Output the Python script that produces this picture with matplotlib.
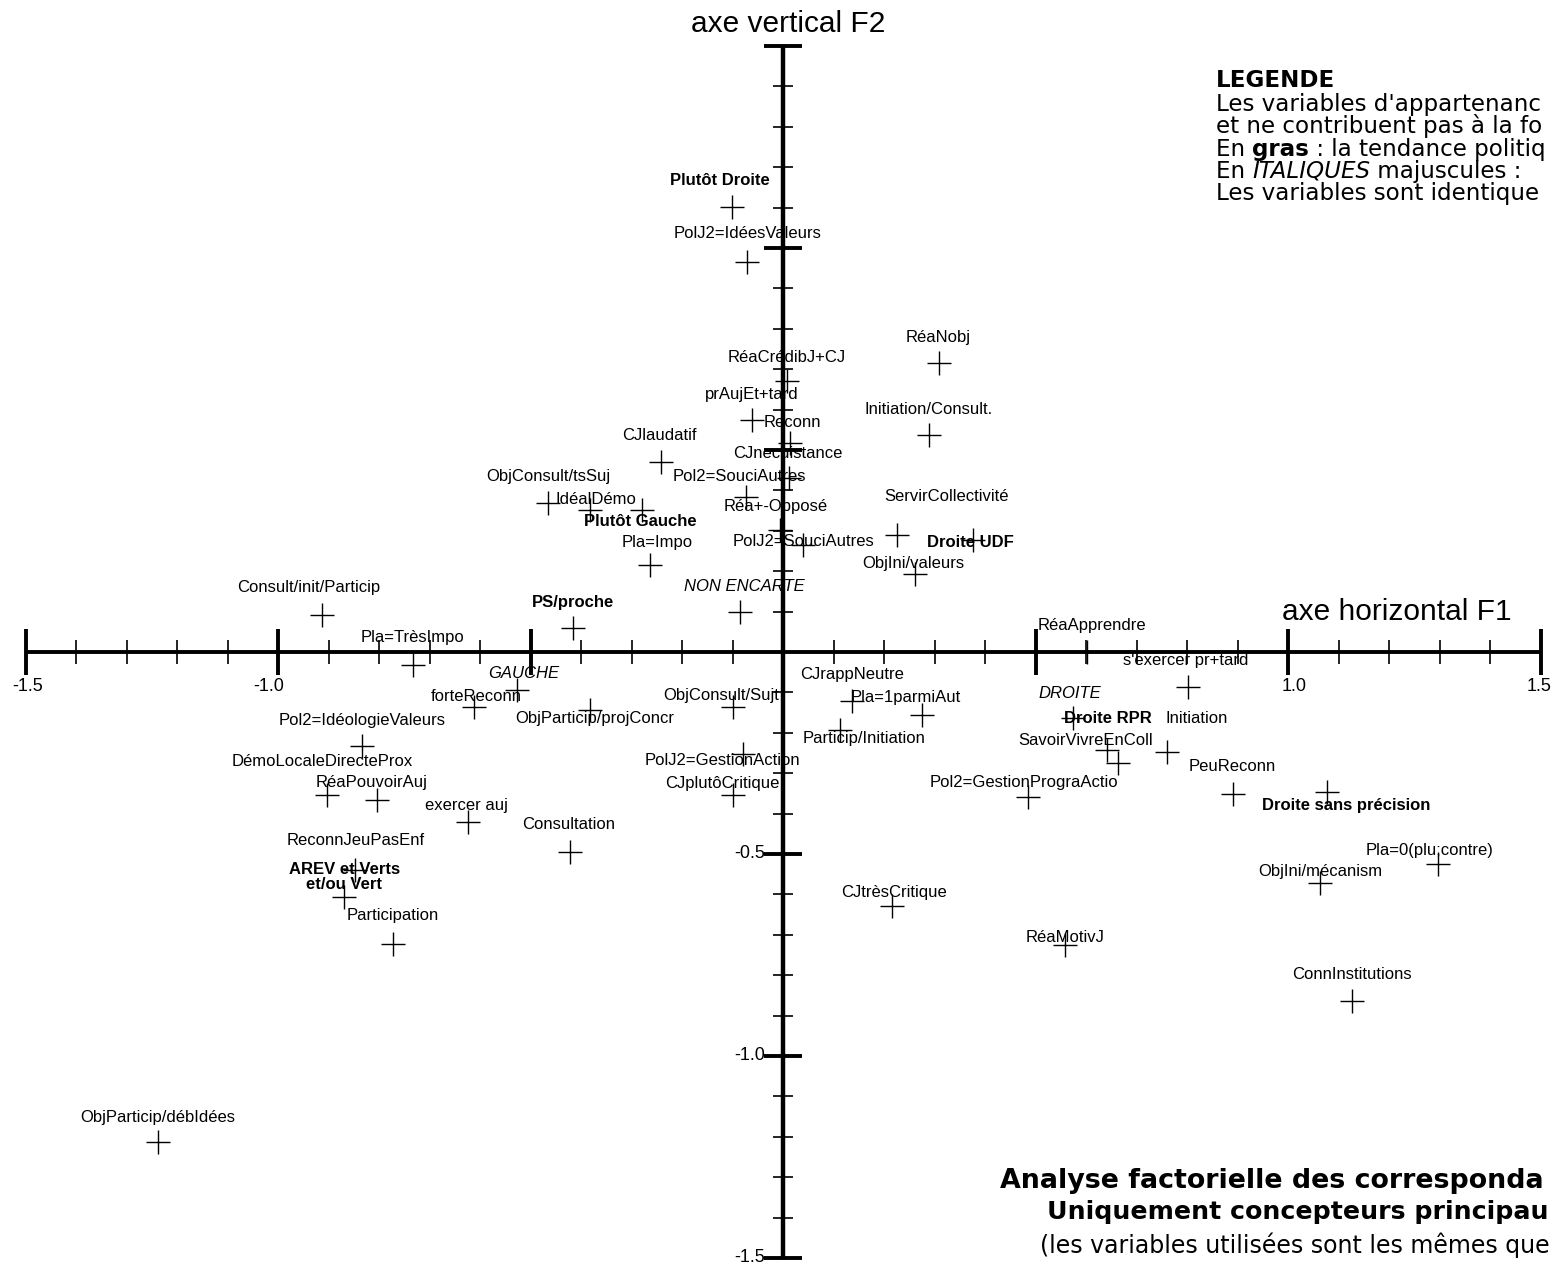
import numpy as np
import matplotlib.pyplot as plt

plt.rcParams['font.family'] = ['Liberation Sans', 'DejaVu Sans']

labels = [
    'Plutôt Droite', 'PolJ2=IdéesValeurs', 'RéaNobj', 'RéaCrédibJ+CJ', 'prAujEt+tard',
    'Reconn', 'Initiation/Consult.', 'CJlaudatif', 'CJnecuistance', 'Pol2=SouciAutres',
    'ObjConsult/tsSuj', 'IdéalDémo', 'Plutôt Gauche', 'Réa+-Opposé', 'ServirCollectivité',
    'PolJ2=SouciAutres', 'Droite UDF', 'ObjIni/valeurs', 'Pla=Impo', 'NON ENCARTE',
    'Consult/init/Particip', 'PS/proche', 'Pla=TrèsImpo', 'GAUCHE', 'forteReconn',
    'ObjParticip/projConcr', 'Pol2=IdéologieValeurs', 'DémoLocaleDirecteProx', 'RéaPouvoirAuj',
    'exercer auj', 'Consultation', 'ReconnJeuPasEnf', 'AREV et Verts\net/ou Vert',
    'Participation', 'ObjConsult/Sujt', 'CJrappNeutre', 'Pla=1parmiAut', 'Particip/Initiation',
    'PolJ2=GestionAction', 'CJplutôCritique', 'Pol2=GestionPrograActio', 'RéaApprendre',
    "s'exercer pr+tard", 'DROITE', 'Droite RPR', 'Initiation', 'SavoirVivreEnColl',
    'PeuReconn', 'Droite sans précision', 'Pla=0(plu;contre)', 'ObjIni/mécanism',
    'ConnInstitutions', 'CJtrèsCritique', 'RéaMotivJ', 'ObjParticip/débIdées',
]
f1 = [
    -0.101, -0.071, 0.309, 0.008, -0.061,
    0.014, 0.289, -0.242, 0.012, -0.073,
    -0.465, -0.382, -0.279, -0.006, 0.226,
    0.040, 0.376, 0.261, -0.263, -0.085,
    -0.913, -0.416, -0.733, -0.527, -0.612,
    -0.382, -0.834, -0.903, -0.804,
    -0.624, -0.422, -0.848, -0.869,
    -0.772, -0.099, 0.137, 0.275, 0.113,
    -0.079, -0.099, 0.485, 0.602,
    0.802, 0.574, 0.663, 0.760, 0.642,
    0.891, 1.077, 1.297, 1.063,
    1.127, 0.216, 0.558, -1.238,
]
f2 = [
    1.101, 0.965, 0.715, 0.671, 0.574,
    0.517, 0.537, 0.470, 0.431, 0.384,
    0.369, 0.351, 0.351, 0.302, 0.290,
    0.265, 0.277, 0.193, 0.215, 0.099,
    0.092, 0.059, -0.032, -0.094, -0.136,
    -0.144, -0.233, -0.354, -0.366,
    -0.421, -0.495, -0.540, -0.606,
    -0.723, -0.136, -0.121, -0.156, -0.193,
    -0.252, -0.354, -0.359, 0.0,
    -0.087, -0.163, -0.275, -0.248, -0.243,
    -0.351, -0.347, -0.525, -0.572,
    -0.864, -0.629, -0.725, -1.213,
]
# n = normal, b = tendance politique (gras), i = groupe (italiques majuscules)
kind = [
    'b', 'n', 'n', 'n', 'n',
    'n', 'n', 'n', 'n', 'n',
    'n', 'n', 'b', 'n', 'n',
    'n', 'b', 'n', 'n', 'i',
    'n', 'b', 'n', 'i', 'n',
    'n', 'n', 'n', 'n',
    'n', 'n', 'n', 'b',
    'n', 'n', 'n', 'n', 'n',
    'n', 'n', 'n', 'n',
    'n', 'i', 'b', 'n', 'n',
    'n', 'b', 'n', 'n',
    'n', 'n', 'n', 'n',
]

# décalage des étiquettes par rapport au point (pixels)
label_offsets = [
    (-12, 27), (0, 29), (-1, 26), (0, 23), (0, 26),
    (2, 21), (0, 26), (-1, 27), (-1, 24), (-7, 20),
    (0, 26), (6, 11), (-2, -11), (-4, 23), (49, 38),
    (0, 3), (-3, -2), (-1, 11), (7, 23), (4, 26),
    (-13, 27), (0, 26), (0, 27), (7, 16), (2, 10),
    (5, -8), (0, 26), (-5, 34), (-5, 17),
    (-1, 17), (-1, 27), (1, 30), (0, 20),
    (0, 29), (-12, 11), (0, 26), (-16, 18), (24, -9),
    (-21, -7), (-11, 12), (-4, 15), (5, 27),
    (-2, 27), (-3, 24), (-10, 45), (30, 34), (-22, 10),
    (-1, 27), (19, -13), (-8, 14), (0, 12),
    (0, 27), (2, 14), (0, 7), (0, 25),
]

styles = {
    'n': dict(fontweight='normal', fontstyle='normal'),
    'b': dict(fontweight='bold', fontstyle='normal'),
    'i': dict(fontweight='normal', fontstyle='italic'),
}

fig = plt.figure(figsize=(15.52, 12.68), dpi=100)
ax = fig.add_axes([0, 0, 1, 1])
ax.set_xlim(-783 / 505, (1552 - 783) / 505)
ax.set_ylim((652 - 1268) / 404, 652 / 404)
ax.axis('off')

# --- axes factoriels ---
minor_ticks = np.round(np.arange(-1.5, 1.51, 0.1), 1)
major_ticks = [-1.5, -1.0, -0.5, 0.5, 1.0, 1.5]

ax.plot([-1.5, 1.5], [0, 0], color='black', lw=2.8, solid_capstyle='butt')
ax.plot(minor_ticks, np.zeros_like(minor_ticks), ls='none', marker='|',
        ms=17, mew=1.2, color='black')
ax.plot(major_ticks, np.zeros(len(major_ticks)), ls='none', marker='|',
        ms=33, mew=2.8, color='black')

ax.plot([0, 0], [-1.5, 1.5], color='black', lw=3.2, solid_capstyle='butt')
ax.plot(np.zeros_like(minor_ticks), minor_ticks, ls='none', marker='_',
        ms=15, mew=1.2, color='black')
ax.plot(np.zeros(len(major_ticks)), major_ticks, ls='none', marker='_',
        ms=28, mew=2.8, color='black')

tick_fs = 13
for val, txt, dx in [(-1.5, '-1.5', 2), (-1.0, '-1.0', -9), (1.0, '1.0', 6), (1.5, '1.5', -1)]:
    ax.annotate(txt, (val, 0), xytext=(dx, -34), textcoords='offset pixels',
                ha='center', va='center', fontsize=tick_fs)
for val, txt in [(-0.5, '-0.5'), (-1.0, '-1.0'), (-1.5, '-1.5')]:
    ax.annotate(txt, (0, val), xytext=(-18, 1), textcoords='offset pixels',
                ha='right', va='center', fontsize=tick_fs)

ax.text(0.01, 1.555, 'axe vertical F2', fontsize=21.5, ha='center', va='center')
ax.text(1.215, 0.098, 'axe horizontal F1', fontsize=21.5, ha='center', va='center')

# --- points et étiquettes ---
ax.plot(f1, f2, ls='none', marker='+', ms=17, mew=1.0, color='black')
for name, x, y, k, off in zip(labels, f1, f2, kind, label_offsets):
    ax.annotate(name, (x, y), xytext=off, textcoords='offset pixels',
                ha='center', va='center', fontsize=12, linespacing=1.0,
                **styles[k])

# --- légende (coupée au bord droit comme sur l'original) ---
leg_fs = 16.6
leg_kw = dict(fontsize=leg_fs, family='DejaVu Sans', va='center', ha='left')
lx = (1216 - 783) / 505
def ypix(p):
    return (652 - p) / 404

ax.text(lx, ypix(80), 'LEGENDE', fontweight='bold', **leg_kw)
ax.text(lx, ypix(104), "Les variables d'appartenanc", **leg_kw)
ax.text(lx, ypix(126), 'et ne contribuent pas à la fo', **leg_kw)
t = ax.text(lx, ypix(149), 'En ', **leg_kw)
t = ax.annotate('gras', xy=(1, 0), xycoords=t, va='bottom', ha='left',
                fontsize=leg_fs, family='DejaVu Sans', fontweight='bold')
ax.annotate(' : la tendance politiq', xy=(1, 0), xycoords=t, va='bottom', ha='left',
            fontsize=leg_fs, family='DejaVu Sans')
t = ax.text(lx, ypix(171), 'En ', **leg_kw)
t = ax.annotate('ITALIQUES', xy=(1, 0), xycoords=t, va='bottom', ha='left',
                fontsize=leg_fs, family='DejaVu Sans', fontstyle='italic')
ax.annotate(' majuscules :', xy=(1, 0), xycoords=t, va='bottom', ha='left',
            fontsize=leg_fs, family='DejaVu Sans')
ax.text(lx, ypix(193), 'Les variables sont identique', **leg_kw)

# --- titre ---
ax.text((1000 - 783) / 505, ypix(1181), 'Analyse factorielle des corresponda',
        fontsize=19.4, family='DejaVu Sans', fontweight='bold', va='center', ha='left')
ax.text((1047 - 783) / 505, ypix(1212), 'Uniquement concepteurs principau',
        fontsize=18.2, family='DejaVu Sans', fontweight='bold', va='center', ha='left')
ax.text((1040 - 783) / 505, ypix(1245), '(les variables utilisées sont les mêmes que',
        fontsize=17, family='DejaVu Sans', va='center', ha='left')

fig.savefig('out.png', dpi=100)
